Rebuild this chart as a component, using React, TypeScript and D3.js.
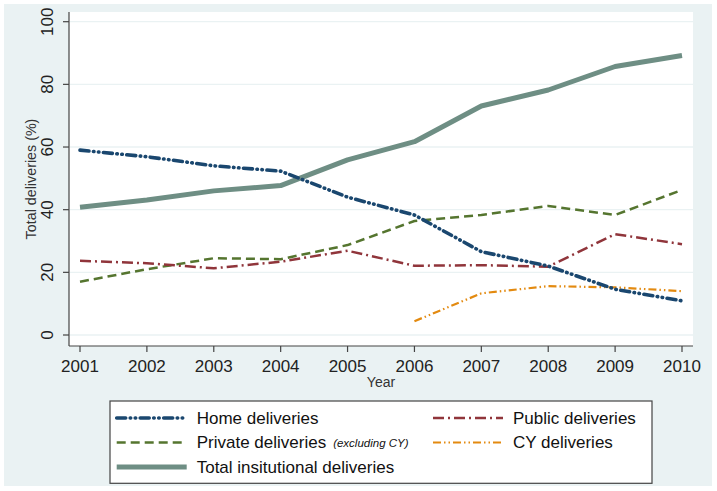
import React from "react";
import * as d3 from "d3";

const years = [2001, 2002, 2003, 2004, 2005, 2006, 2007, 2008, 2009, 2010];
const homeDeliveries = [59.0, 56.9, 54.0, 52.3, 44.0, 38.3, 26.6, 22.0, 14.6, 10.9];
const publicDeliveries = [23.7, 22.9, 21.3, 23.4, 26.9, 22.1, 22.3, 21.8, 32.2, 29.0];
const privateDeliveries = [17.0, 21.0, 24.5, 24.2, 28.7, 36.4, 38.3, 41.2, 38.3, 46.3];
const cyYears = [2006, 2007, 2008, 2009, 2010];
const cyDeliveries = [4.4, 13.3, 15.6, 15.2, 14.0];
const totalDeliveries = [40.8, 43.1, 46.0, 47.7, 55.9, 61.7, 73.1, 78.2, 85.7, 89.2];
const yTicks = [0, 20, 40, 60, 80, 100];

type Series = {
  name: string;
  xs: number[];
  ys: number[];
  color: string;
  width: number;
  dash: string;
  cap: "round" | "butt";
};

const series: Series[] = [
  { name: "Total insitutional deliveries", xs: years, ys: totalDeliveries, color: "#6e8e84", width: 5, dash: "", cap: "butt" },
  { name: "Private deliveries", xs: years, ys: privateDeliveries, color: "#55752f", width: 2.5, dash: "9 5", cap: "butt" },
  { name: "Public deliveries", xs: years, ys: publicDeliveries, color: "#90353b", width: 2.5, dash: "11 4 2 4", cap: "butt" },
  { name: "CY deliveries", xs: cyYears, ys: cyDeliveries, color: "#e38a10", width: 2.2, dash: "8 3 1.5 3 1.5 3", cap: "butt" },
  { name: "Home deliveries", xs: years, ys: homeDeliveries, color: "#1a476f", width: 3.6, dash: "9 4.5 0.5 4.5 0.5 4.5", cap: "round" },
];

const byName = (n: string) => series.find((s) => s.name === n)!;

export default function App() {
  const W = 717;
  const H = 491;
  const plot = { left: 69, right: 693, top: 12, bottom: 346 };
  const x = d3.scaleLinear().domain([2001, 2010]).range([80, 682]);
  const y = d3.scaleLinear().domain([0, 100]).range([335, 21.7]);
  const font = "'Liberation Sans', Arial, sans-serif";

  const lineGen = (s: Series) =>
    d3
      .line<number>()
      .x((_, i) => x(s.xs[i]))
      .y((v) => y(v))(s.ys) || "";

  const legendItems = [
    { s: byName("Home deliveries"), label: "Home deliveries", col: 0, row: 0 },
    { s: byName("Public deliveries"), label: "Public deliveries", col: 1, row: 0 },
    { s: byName("Private deliveries"), label: "Private deliveries", col: 0, row: 1, extra: "(excluding CY)" },
    { s: byName("CY deliveries"), label: "CY deliveries", col: 1, row: 1 },
    { s: byName("Total insitutional deliveries"), label: "Total insitutional deliveries", col: 0, row: 2 },
  ];
  const colX = [116.7, 433];
  const rowY = [418, 442.5, 467];

  return (
    <svg
      width={W}
      height={H}
      style={{ position: "absolute", left: 0, top: 0, background: "#ffffff" }}
      fontFamily={font}
    >
      <rect x={4} y={4} width={708} height={482} fill="#eaf2f3" />
      <rect x={plot.left} y={plot.top} width={plot.right - plot.left} height={plot.bottom - plot.top} fill="#ffffff" />
      {yTicks.map((t) => (
        <line key={"g" + t} x1={plot.left + 1} x2={plot.right} y1={y(t)} y2={y(t)} stroke="#eaf2f3" strokeWidth={1.3} />
      ))}
      {series.map((s) => (
        <path
          key={s.name}
          d={lineGen(s)}
          fill="none"
          stroke={s.color}
          strokeWidth={s.width}
          strokeDasharray={s.dash || undefined}
          strokeLinecap={s.cap}
          strokeLinejoin="round"
        />
      ))}
      {/* axes */}
      <line x1={plot.left} x2={plot.left} y1={plot.top} y2={plot.bottom} stroke="#444" strokeWidth={1.2} />
      <line x1={plot.left} x2={plot.right} y1={plot.bottom} y2={plot.bottom} stroke="#444" strokeWidth={1.2} />
      {yTicks.map((t) => (
        <g key={"yt" + t}>
          <line x1={plot.left - 6} x2={plot.left} y1={y(t)} y2={y(t)} stroke="#444" strokeWidth={1.2} />
          <text
            transform={`translate(47,${y(t)}) rotate(-90)`}
            textAnchor="middle"
            dominantBaseline="central"
            fontSize={17}
            fill="#222"
          >
            {t}
          </text>
        </g>
      ))}
      {years.map((yr) => (
        <g key={"xt" + yr}>
          <line x1={x(yr)} x2={x(yr)} y1={plot.bottom} y2={plot.bottom + 6} stroke="#444" strokeWidth={1.2} />
          <text x={x(yr)} y={372} textAnchor="middle" fontSize={17} fill="#222">
            {yr}
          </text>
        </g>
      ))}
      <text
        transform={`translate(31,${(plot.top + plot.bottom) / 2}) rotate(-90)`}
        textAnchor="middle"
        dominantBaseline="central"
        fontSize={14.3}
        fill="#333"
      >
        Total deliveries (%)
      </text>
      <text x={(plot.left + plot.right) / 2} y={387} textAnchor="middle" fontSize={14} fill="#333">
        Year
      </text>
      {/* legend */}
      <rect x={110} y={401} width={542} height={82.3} fill="#ffffff" stroke="#444" strokeWidth={1.2} />
      {legendItems.map((it) => {
        const lx = colX[it.col];
        const ly = rowY[it.row];
        return (
          <g key={it.label}>
            <line
              x1={lx}
              x2={lx + 70}
              y1={ly}
              y2={ly}
              stroke={it.s.color}
              strokeWidth={it.s.width}
              strokeDasharray={it.s.dash || undefined}
              strokeLinecap={it.s.cap}
            />
            <text x={lx + 80} y={ly} dominantBaseline="central" fontSize={17} fill="#111">
              {it.label}
              {it.extra ? (
                <tspan fontSize={11.5} fontStyle="italic" dx={7}>
                  {it.extra}
                </tspan>
              ) : null}
            </text>
          </g>
        );
      })}
    </svg>
  );
}
